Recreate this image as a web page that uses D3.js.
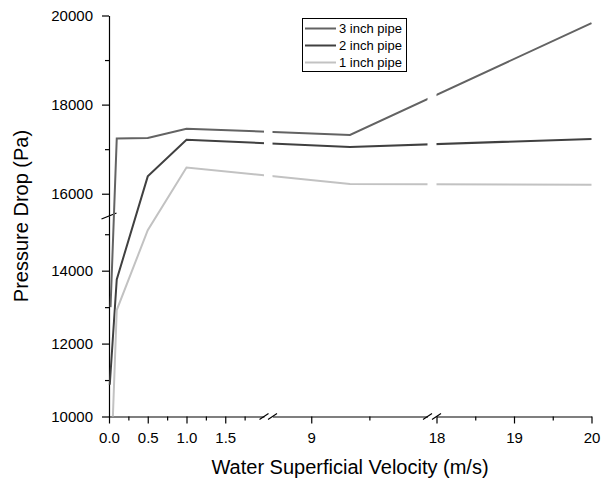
<!DOCTYPE html>
<html>
<head>
<meta charset="utf-8">
<script src="https://cdnjs.cloudflare.com/ajax/libs/d3/7.8.5/d3.min.js"></script>
<style>
body { margin: 0; background: #fff; }
text { font-family: "Liberation Sans", Arial, sans-serif; }
</style>
</head>
<body>
<script>
var velocity3 = [0.02, 0.1, 0.5, 1.0, 9.5, 20];
var drop3 = [13000, 17240, 17250, 17460, 17320, 19830];
var velocity2 = [0.01, 0.1, 0.5, 1.0, 9.5, 20];
var drop2 = [10870, 13760, 16390, 17210, 17050, 17230];
var velocity1 = [0.05, 0.1, 0.5, 1.0, 9.5, 20];
var drop1 = [10000, 12920, 15110, 16590, 16220, 16200];
var seriesNames = ["3 inch pipe", "2 inch pipe", "1 inch pipe"];

var xDomains = [[0, 2], [8.5, 10.5], [18, 20]];
var xTicks = [[0, 0.5, 1, 1.5], [9], [18, 19, 20]];
var xMinor = [[0.25, 0.75, 1.25, 1.75], [9.75], [18.5, 19.5]];
var yDomains = [[10000, 15500], [15500, 20000]];
var yTicks = [[10000, 12000, 14000], [16000, 18000, 20000]];
var yMinor = [[11000, 13000, 15000], [17000, 19000]];

var width = 601, height = 483;
var xRanges = [[109, 264], [272.5, 427.5], [436.5, 591.5]];
var yRanges = [[416.5, 216], [216, 15.5]];
var colors = ["#636363", "#404040", "#c2c2c2"];

var svg = d3.select("body").append("svg")
    .attr("width", width)
    .attr("height", height);

var xs = xDomains.map(function(d, i) { return d3.scaleLinear().domain(d).range(xRanges[i]); });
var ys = yDomains.map(function(d, i) { return d3.scaleLinear().domain(d).range(yRanges[i]); });

function px(v) {
    for (var i = 0; i < xs.length; i++) {
        if (v <= xDomains[i][1]) return xs[i](v);
    }
    return xs[xs.length - 1](v);
}
function py(v) {
    return v <= yDomains[0][1] ? ys[0](v) : ys[1](v);
}

// clip the curves so they break at the axis gaps
var clip = svg.append("defs").append("clipPath").attr("id", "segs");
xRanges.forEach(function(r, i) {
    clip.append("rect")
        .attr("x", i == 0 ? 100 : r[0])
        .attr("y", 0)
        .attr("width", (i == 0 ? r[1] - 100 : r[1] - r[0]) + (i == 2 ? 10 : 0))
        .attr("height", yRanges[0][0] + 1);
});

// x axis, one piece per segment
xs.forEach(function(s, i) {
    svg.append("g")
        .attr("transform", "translate(0," + yRanges[0][0] + ")")
        .call(d3.axisBottom(s).tickValues(xTicks[i]).tickSize(7).tickSizeOuter(0).tickPadding(9)
            .tickFormat(i == 0 ? d3.format(".1f") : d3.format("d")))
        .attr("font-size", 15)
        .attr("font-family", "Liberation Sans, Arial, sans-serif");
    svg.append("g")
        .attr("transform", "translate(0," + yRanges[0][0] + ")")
        .call(d3.axisBottom(s).tickValues(xMinor[i]).tickSize(4).tickSizeOuter(0).tickFormat(""))
        .select(".domain").remove();
});

ys.forEach(function(s, i) {
    svg.append("g")
        .attr("transform", "translate(" + xRanges[0][0] + ",0)")
        .call(d3.axisLeft(s).tickValues(yTicks[i]).tickSize(7).tickSizeOuter(0).tickPadding(9)
            .tickFormat(d3.format("d")))
        .attr("font-size", 15)
        .attr("font-family", "Liberation Sans, Arial, sans-serif");
    svg.append("g")
        .attr("transform", "translate(" + xRanges[0][0] + ",0)")
        .call(d3.axisLeft(s).tickValues(yMinor[i]).tickSize(4).tickSizeOuter(0).tickFormat(""))
        .select(".domain").remove();
});
svg.selectAll(".domain, .tick line").attr("stroke", "#000").attr("stroke-width", 1.2);

// break marks
var yb = yRanges[0][0];
[xRanges[0][1], xRanges[1][0], xRanges[1][1], xRanges[2][0]].forEach(function(b) {
    svg.append("line")
        .attr("x1", b - 4.5).attr("y1", yb + 3)
        .attr("x2", b + 4.5).attr("y2", yb - 3)
        .attr("stroke", "#000").attr("stroke-width", 1.2);
});
svg.append("line")
    .attr("x1", xRanges[0][0] - 7.5).attr("y1", yRanges[0][1] + 3)
    .attr("x2", xRanges[0][0] + 7.5).attr("y2", yRanges[0][1] - 3)
    .attr("stroke", "#000").attr("stroke-width", 1.2);

var line = d3.line()
    .x(function(d) { return px(d[0]); })
    .y(function(d) { return py(d[1]); });

var series = [d3.zip(velocity3, drop3), d3.zip(velocity2, drop2), d3.zip(velocity1, drop1)];

svg.append("g")
    .attr("clip-path", "url(#segs)")
    .selectAll("path")
    .data(series).enter()
    .append("path")
    .attr("d", line)
    .attr("fill", "none")
    .attr("stroke", function(d, i) { return colors[i]; })
    .attr("stroke-width", 2);

// legend
var legend = svg.append("g");
legend.append("rect")
    .attr("x", 302.5).attr("y", 18.5)
    .attr("width", 104).attr("height", 53)
    .attr("fill", "#fff").attr("stroke", "#000").attr("stroke-width", 1);
seriesNames.forEach(function(name, i) {
    var ly = 28.5 + i * 17;
    legend.append("line")
        .attr("x1", 305).attr("x2", 336)
        .attr("y1", ly).attr("y2", ly)
        .attr("stroke", colors[i]).attr("stroke-width", 2);
    legend.append("text")
        .attr("x", 339).attr("y", ly)
        .attr("dy", "0.35em")
        .attr("font-size", 13)
        .text(name);
});

svg.append("text")
    .attr("x", 350).attr("y", 474)
    .attr("text-anchor", "middle")
    .attr("font-size", 20)
    .text("Water Superficial Velocity (m/s)");

svg.append("text")
    .attr("transform", "translate(28,216) rotate(-90)")
    .attr("text-anchor", "middle")
    .attr("font-size", 20)
    .text("Pressure Drop (Pa)");
</script>
</body>
</html>
